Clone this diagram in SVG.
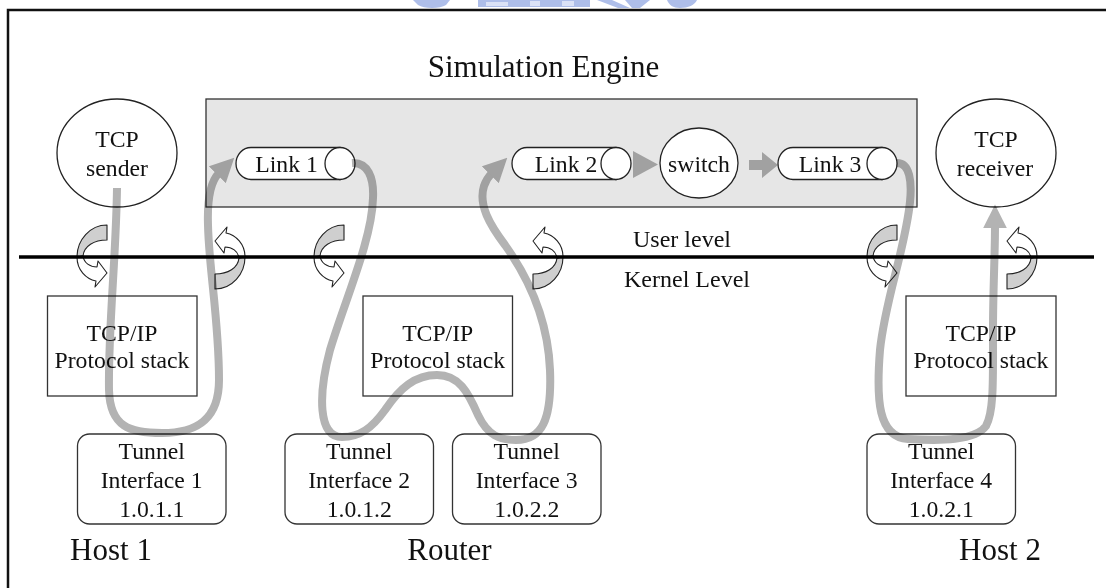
<svg xmlns="http://www.w3.org/2000/svg" width="1106" height="588" viewBox="0 0 1106 588">
  <defs>
    <style>
      text { font-family: "Liberation Serif", "Times New Roman", serif; fill: #111; text-anchor: middle; }
      .lbl { font-size: 23.7px; }
      .big { font-size: 31px; }
      .lvl { font-size: 24px; }
      .box { fill: none; stroke: #333; stroke-width: 1.3; }
      .node { fill: #fff; stroke: #222; stroke-width: 1.3; }
      .flow { fill: none; stroke: #b3b3b3; stroke-width: 8; }
      .flow-solid { fill: #b3b3b3; stroke: none; }
      .turn-back { fill: #cfcfcf; stroke: #222; stroke-width: 1.1; stroke-linejoin: round; }
      .turn-front { fill: #fff; stroke: #222; stroke-width: 1.1; stroke-linejoin: round; }
      #connectors { mix-blend-mode: multiply; }
    </style>
    <marker id="head" viewBox="0 0 10 10" refX="1" refY="5" markerWidth="3" markerHeight="3" orient="auto" markerUnits="strokeWidth">
      <path d="M0,0 L10,5 L0,10 Z" fill="#b3b3b3"/>
    </marker>
    <!-- curved block arrow crossing the user/kernel boundary -->
    <g id="turn">
      <path class="turn-back" d="M30,-32 C13,-32 0,-17 0,0 L6,-1 C7,-11 17,-17 30,-17 Z"/>
      <path class="turn-front" d="M0,0 C0,13 9,22 19,24 L18,30 L30,16 L21,4 L20,10 C13,10 7,6 6,-1 Z"/>
    </g>
  </defs>

  <rect x="0" y="0" width="1106" height="588" fill="#fff"/>

  <!-- crest fragment along the top edge -->
  <g id="crest" fill="#aebee9">
    <path d="M413,0 H450 L446,5 C440,9 424,9 418,5 Z"/>
    <rect x="478" y="0" width="112" height="7"/>
    <path d="M597,0 H612 L630,8 H618 Z M625,0 H650 L640,8 H632 Z"/>
    <path d="M667,0 H697 C695,5 688,8 680,8 C673,8 669,5 667,0 Z"/>
  </g>
  <g fill="#dbe2f6">
    <rect x="486" y="2" width="22" height="4"/>
    <rect x="530" y="1" width="10" height="5"/>
    <rect x="562" y="1" width="12" height="5"/>
  </g>

  <!-- frame -->
  <path d="M8,588 V10 H1106" fill="none" stroke="#111" stroke-width="2.5"/>

  <text class="big" x="543.5" y="77">Simulation Engine</text>

  <g id="simulation-engine">
    <rect x="206" y="99" width="711" height="108" fill="#e6e6e6" stroke="#333" stroke-width="1.3"/>
  </g>

  <!-- boundary crossings -->
  <g id="crossings">
    <use href="#turn" transform="translate(77,257)"/>
    <use href="#turn" transform="translate(245,257) rotate(180)"/>
    <use href="#turn" transform="translate(314,257)"/>
    <use href="#turn" transform="translate(563,257) rotate(180)"/>
    <use href="#turn" transform="translate(867,257)"/>
    <use href="#turn" transform="translate(1037,257) rotate(180)"/>
  </g>

  <g id="level-boundary">
    <line x1="19" y1="257" x2="1094" y2="257" stroke="#000" stroke-width="3.5"/>
    <text class="lvl" x="682" y="247">User level</text>
    <text class="lvl" x="687" y="287">Kernel Level</text>
  </g>

  <g id="tcp-sender">
    <ellipse class="node" cx="117" cy="153" rx="60" ry="54"/>
    <text class="lbl" x="117" y="147">TCP</text>
    <text class="lbl" x="117" y="176">sender</text>
  </g>

  <g id="tcp-receiver">
    <ellipse class="node" cx="996" cy="153" rx="60" ry="54"/>
    <text class="lbl" x="996" y="147">TCP</text>
    <text class="lbl" x="995" y="176">receiver</text>
  </g>

  <g id="link1">
    <path class="node" d="M251,147.5 H340 V179.5 H251 A15,16 0 0 1 251,147.5 Z"/>
    <ellipse class="node" cx="340" cy="163.5" rx="15" ry="16"/>
    <text class="lbl" x="286.5" y="172">Link 1</text>
  </g>

  <g id="link2">
    <path class="node" d="M527,147.5 H616 V179.5 H527 A15,16 0 0 1 527,147.5 Z"/>
    <ellipse class="node" cx="616" cy="163.5" rx="15" ry="16"/>
    <text class="lbl" x="566" y="172">Link 2</text>
  </g>

  <g id="switch">
    <ellipse class="node" cx="699" cy="163" rx="39" ry="35"/>
    <text class="lbl" x="699" y="172">switch</text>
  </g>

  <g id="link3">
    <path class="node" d="M793,147.5 H882 V179.5 H793 A15,16 0 0 1 793,147.5 Z"/>
    <ellipse class="node" cx="882" cy="163.5" rx="15" ry="16"/>
    <text class="lbl" x="830" y="172">Link 3</text>
  </g>

  <g id="host1-stack">
    <rect class="box" x="47.5" y="296" width="149.5" height="100"/>
    <text class="lbl" x="122" y="341">TCP/IP</text>
    <text class="lbl" x="122" y="368">Protocol stack</text>
  </g>

  <g id="router-stack">
    <rect class="box" x="363" y="296" width="149.5" height="100"/>
    <text class="lbl" x="437.7" y="341">TCP/IP</text>
    <text class="lbl" x="437.7" y="368">Protocol stack</text>
  </g>

  <g id="host2-stack">
    <rect class="box" x="906" y="296" width="150" height="100"/>
    <text class="lbl" x="981" y="341">TCP/IP</text>
    <text class="lbl" x="981" y="368">Protocol stack</text>
  </g>

  <g id="tunnel1">
    <rect class="box" x="77.5" y="434" width="148.5" height="90" rx="12"/>
    <text class="lbl" x="151.7" y="459">Tunnel</text>
    <text class="lbl" x="151.7" y="488">Interface 1</text>
    <text class="lbl" x="151.7" y="517">1.0.1.1</text>
  </g>

  <g id="tunnel2">
    <rect class="box" x="285" y="434" width="148.5" height="90" rx="12"/>
    <text class="lbl" x="359.2" y="459">Tunnel</text>
    <text class="lbl" x="359.2" y="488">Interface 2</text>
    <text class="lbl" x="359.2" y="517">1.0.1.2</text>
  </g>

  <g id="tunnel3">
    <rect class="box" x="452.5" y="434" width="148.5" height="90" rx="12"/>
    <text class="lbl" x="526.7" y="459">Tunnel</text>
    <text class="lbl" x="526.7" y="488">Interface 3</text>
    <text class="lbl" x="526.7" y="517">1.0.2.2</text>
  </g>

  <g id="tunnel4">
    <rect class="box" x="867" y="434" width="148.5" height="90" rx="12"/>
    <text class="lbl" x="941.2" y="459">Tunnel</text>
    <text class="lbl" x="941.2" y="488">Interface 4</text>
    <text class="lbl" x="941.2" y="517">1.0.2.1</text>
  </g>

  <g id="host-labels">
    <text class="big" x="111" y="560">Host 1</text>
    <text class="big" x="449.5" y="560">Router</text>
    <text class="big" x="1000" y="560">Host 2</text>
  </g>

  <!-- packet path: sender -> tunnel 1 -> link 1 -> tunnel 2 -> router stack -> tunnel 3 -> link 2 -> switch -> link 3 -> tunnel 4 -> receiver -->
  <g id="connectors">
    <path class="flow" marker-end="url(#head)" d="M117,188 C116,260 108,330 109,390 C110,427 130,433 162,433 C196,433 219,420 219,380 C219,320 209,270 208,225 C207,195 212,180 219,173"/>
    <path class="flow" marker-end="url(#head)" d="M352,163 C368,162 374,178 373,198 C372,240 345,300 330,350 C318,395 318,437 342,437 C360,437 372,428 385,410 C400,388 415,375 437,375 C459,375 468,392 478,415 C488,436 500,440 516,440 C542,440 552,420 550,370 C548,320 530,280 505,245 C490,225 478,205 484,186 C486,180 489,176 492,173"/>
    <path class="flow-solid" d="M633,151 L658,164.5 L633,178 Z"/>
    <path class="flow-solid" d="M749,160 H762 V152 L778,165 L762,178 V170 H749 Z"/>
    <path class="flow" marker-end="url(#head)" d="M897,163 C910,163 912,182 910,202 C905,250 885,300 880,350 C876,400 878,437 908,439 C940,441 975,441 986,426 C994,412 993,380 993,330 C993,290 995,255 995,226"/>
  </g>
</svg>
